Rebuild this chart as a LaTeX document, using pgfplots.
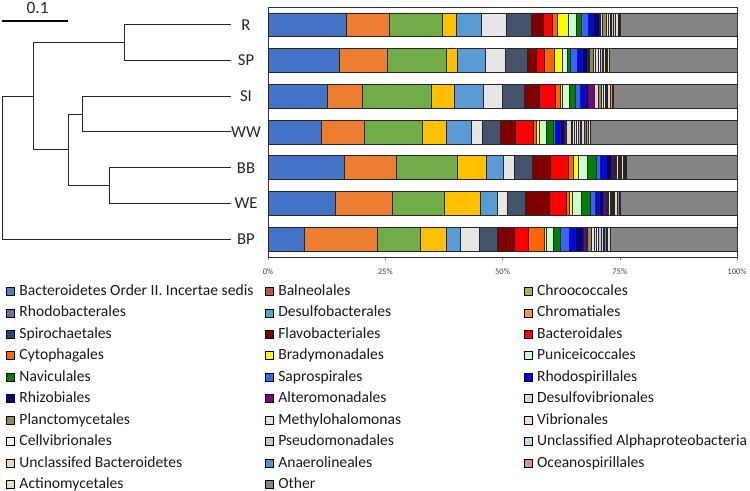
\documentclass[border=0pt]{standalone}
\usepackage{pgfplots}
\pgfplotsset{compat=1.18}
\usepackage{pgfplotstable}
\usepackage{fontspec}
\setmainfont{Carlito}

% bar colours
\definecolor{b1}{HTML}{4472C4}
\definecolor{b2}{HTML}{ED7D31}
\definecolor{b3}{HTML}{70AD47}
\definecolor{b4}{HTML}{FFC000}
\definecolor{b5}{HTML}{5B9BD5}
\definecolor{b6}{HTML}{E7E6E6}
\definecolor{b7}{HTML}{44546A}
\definecolor{b8}{HTML}{800000}
\definecolor{b9}{HTML}{FF0000}
\definecolor{b10}{HTML}{FF6600}
\definecolor{b11}{HTML}{FFFF00}
\definecolor{b12}{HTML}{CCFFCC}
\definecolor{b13}{HTML}{008000}
\definecolor{b14}{HTML}{3366FF}
\definecolor{b15}{HTML}{0000FF}
\definecolor{b16}{HTML}{000080}
\definecolor{b17}{HTML}{800080}
\definecolor{b18}{HTML}{DDD9C4}
\definecolor{b19}{HTML}{948A54}
\definecolor{b20}{HTML}{DCE6F2}
\definecolor{b21}{HTML}{F2DCDB}
\definecolor{b22}{HTML}{F2F2F2}
\definecolor{b23}{HTML}{CCC1DA}
\definecolor{b24}{HTML}{B7DEE8}
\definecolor{b25}{HTML}{FBD4B4}
\definecolor{b26}{HTML}{558ED5}
\definecolor{b27}{HTML}{D99694}
\definecolor{b28}{HTML}{D7E4BD}
\definecolor{b29}{HTML}{848484}
% legend colours
\definecolor{l1}{HTML}{4F81BD}
\definecolor{l2}{HTML}{C0504D}
\definecolor{l3}{HTML}{9BBB59}
\definecolor{l4}{HTML}{8064A2}
\definecolor{l5}{HTML}{4BACC6}
\definecolor{l6}{HTML}{F79646}
\definecolor{l7}{HTML}{1F497D}

\pgfplotstableread{
cat s1 s2 s3 s4 s5 s6 s7 s8 s9 s10 s11 s12 s13 s14 s15 s16 s17 s18 s19 s20 s21 s22 s23 s24 s25 s26 s27 s28 s29
0 16.6 9.3 11.3 2.9 5.3 5.5 5.3 2.5 2.0 1.0 2.3 1.7 1.2 1.4 1.1 1.2 0.3 0.3 1.0 0.3 0.4 0.4 0.4 0.3 0.6 0.2 0.2 0.2 24.8
1 15.2 10.2 12.7 2.3 5.9 4.2 4.8 2.0 1.6 2.1 1.8 1.0 0.7 1.4 1.1 1.1 0.2 0.3 0.8 0.4 0.6 0.5 0.3 0.3 0.5 0.2 0.2 0.4 27.2
2 12.6 7.6 14.7 4.8 6.2 4.1 4.6 3.2 3.5 1.0 0.5 1.4 1.3 1.2 1.0 0.6 1.2 1.0 0.6 0.3 0.2 0.3 0.3 0.2 0.5 0.1 0.4 0.2 26.4
3 11.4 9.1 12.4 5.2 5.2 2.3 3.9 3.2 3.9 0.7 0.5 1.6 1.4 0.4 1.1 0.9 0.5 0.9 0.3 0.4 0.4 0.5 0.3 0.3 0.6 0.4 0.5 0.4 31.3
4 16.2 11.2 13.0 6.2 3.6 2.3 3.9 3.9 3.7 1.2 1.0 1.9 1.8 1.0 1.3 1.1 0.3 0.3 0.2 0.2 0.3 0.3 0.2 0.2 0.4 0.2 0.2 0.2 23.7
5 14.3 12.3 10.9 7.7 3.7 2.1 3.9 5.1 3.7 0.5 0.6 2.1 1.8 1.0 0.9 0.9 0.6 0.3 0.2 0.3 0.3 0.2 0.3 0.2 0.6 0.4 0.1 0.2 24.8
6 7.7 15.6 9.1 5.7 3.0 4.0 3.7 3.7 3.0 3.4 0.5 1.4 1.5 1.9 1.3 1.7 0.6 0.2 1.0 0.6 0.3 0.5 0.6 0.4 0.3 0.5 0.2 0.5 27.1
}\bardata

\pgfplotsset{sqleg/.style={legend image code/.code={\draw[##1, draw=black, line width=0.6pt] (0pt,-3pt) rectangle (6pt,3pt);}}}

\begin{document}
\begin{tikzpicture}
\path[use as bounding box] (0,0) rectangle (562.5pt,-368.25pt);
% dendrogram
\begin{axis}[at={(1.725pt,-5.25pt)}, anchor=north west, scale only axis,
  width=171.5pt, height=187.5pt, xmin=0, xmax=0.3465, ymin=-0.5, ymax=6.5,
  y dir=reverse, axis lines=none, clip=false, no marks]
\addplot[black!85, line width=0.75pt, solid] coordinates {(0.3465,6) (0,6) (0,2) (0.048,2)};
\addplot[black!85, line width=0.75pt, solid] coordinates {(0.1855,0.5) (0.048,0.5) (0.048,3.5) (0.100,3.5)};
\addplot[black!85, line width=0.75pt, solid] coordinates {(0.3465,0) (0.1855,0) (0.1855,1) (0.3465,1)};
\addplot[black!85, line width=0.75pt, solid] coordinates {(0.121,2.5) (0.100,2.5) (0.100,4.5) (0.1617,4.5)};
\addplot[black!85, line width=0.75pt, solid] coordinates {(0.3465,2) (0.121,2) (0.121,3) (0.3465,3)};
\addplot[black!85, line width=0.75pt, solid] coordinates {(0.3465,4) (0.1617,4) (0.1617,5) (0.3465,5)};
\addplot[black, line width=1.5pt, solid] coordinates {(0,-0.116) (0.1,-0.116)};
\node[font=\fontsize{13}{15}\selectfont, text=black!85] at (axis cs:0.0536,-0.47) {0.1};
\end{axis}
% stacked bars
\begin{axis}[at={(201pt,-5.25pt)}, anchor=north west, scale only axis,
  width=351.75pt, height=187.5pt,
  xbar stacked, bar width=0.67,
  xmin=0, xmax=100, ymin=-0.5, ymax=6.5, y dir=reverse,
  ytick={0,...,6}, yticklabels={R,SP,SI,WW,BB,WE,BP},
  yticklabel style={font=\fontsize{12.5}{14}\selectfont, text=black!85, anchor=center, xshift=-14.25pt},
  ytick style={draw=none},
  xtick={0,25,50,75,100}, xticklabels={0\%,25\%,50\%,75\%,100\%},
  xtick pos=left, tick align=outside, major tick length=2.25pt,
  xticklabel style={font=\fontsize{6.4}{7}\selectfont, text=black!75, anchor=center, yshift=-9pt},
  axis line style={black!80, line width=0.75pt},
  legend columns=3, legend cell align=left,
  legend style={at={(-0.5586,-0.1085)}, anchor=north west, draw=none, fill=none,
    inner sep=0pt, outer sep=0pt, row sep=5.1pt,
    font=\fontsize{11.7}{14}\selectfont, text=black!90,
    nodes={text width=184pt, align=flush left, inner sep=0pt, text height=8.5pt, text depth=2.5pt},
    /tikz/every odd column/.append style={column sep=3.5pt}},
]
\pgfplotsinvokeforeach{1,...,29}{
  \addplot[fill=b#1, draw=black!85, line width=0.5pt, forget plot] table[x=s#1, y=cat]{\bardata};
}
\addlegendimage{sqleg, fill=l1}\addlegendentry{Bacteroidetes Order II. Incertae sedis}
\addlegendimage{sqleg, fill=l2}\addlegendentry{Balneolales}
\addlegendimage{sqleg, fill=l3}\addlegendentry{Chroococcales}
\addlegendimage{sqleg, fill=l4}\addlegendentry{Rhodobacterales}
\addlegendimage{sqleg, fill=l5}\addlegendentry{Desulfobacterales}
\addlegendimage{sqleg, fill=l6}\addlegendentry{Chromatiales}
\addlegendimage{sqleg, fill=l7}\addlegendentry{Spirochaetales}
\addlegendimage{sqleg, fill=b8}\addlegendentry{Flavobacteriales}
\addlegendimage{sqleg, fill=b9}\addlegendentry{Bacteroidales}
\addlegendimage{sqleg, fill=b10}\addlegendentry{Cytophagales}
\addlegendimage{sqleg, fill=b11}\addlegendentry{Bradymonadales}
\addlegendimage{sqleg, fill=b12}\addlegendentry{Puniceicoccales}
\addlegendimage{sqleg, fill=b13}\addlegendentry{Naviculales}
\addlegendimage{sqleg, fill=b14}\addlegendentry{Saprospirales}
\addlegendimage{sqleg, fill=b15}\addlegendentry{Rhodospirillales}
\addlegendimage{sqleg, fill=b16}\addlegendentry{Rhizobiales}
\addlegendimage{sqleg, fill=b17}\addlegendentry{Alteromonadales}
\addlegendimage{sqleg, fill=b18}\addlegendentry{Desulfovibrionales}
\addlegendimage{sqleg, fill=b19}\addlegendentry{Planctomycetales}
\addlegendimage{sqleg, fill=b20}\addlegendentry{Methylohalomonas}
\addlegendimage{sqleg, fill=b21}\addlegendentry{Vibrionales}
\addlegendimage{sqleg, fill=b22}\addlegendentry{Cellvibrionales}
\addlegendimage{sqleg, fill=b23}\addlegendentry{Pseudomonadales}
\addlegendimage{sqleg, fill=b24}\addlegendentry{Unclassified Alphaproteobacteria}
\addlegendimage{sqleg, fill=b25}\addlegendentry{Unclassifed Bacteroidetes}
\addlegendimage{sqleg, fill=b26}\addlegendentry{Anaerolineales}
\addlegendimage{sqleg, fill=b27}\addlegendentry{Oceanospirillales}
\addlegendimage{sqleg, fill=b28}\addlegendentry{Actinomycetales}
\addlegendimage{sqleg, fill=b29}\addlegendentry{Other}
\end{axis}
\end{tikzpicture}
\end{document}
